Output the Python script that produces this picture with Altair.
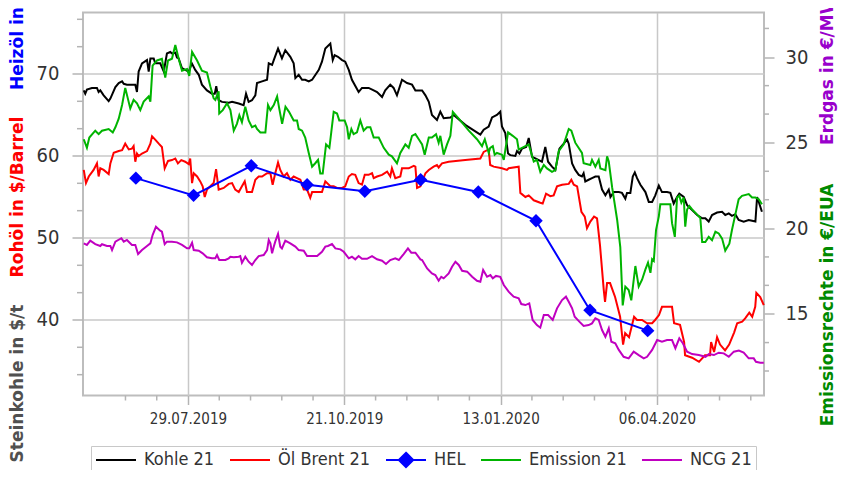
import altair as alt
import pandas as pd

# ---------------- data ----------------
BASE = pd.Timestamp("2019-06-02 14:00")   # day offsets below count from here

SERIES = ["Kohle 21", "Öl Brent 21", "HEL", "Emission 21", "NCG 21"]
COLORS = ["#000000", "#ff0000", "#0000ff", "#00b400", "#c000c0"]

kohle_day = [0.4, 1.2, 2.1, 4.8, 7.5, 8.4, 9.3, 11.1, 13.8, 14.7, 17.4, 19.2, 21.0, 21.9, 23.6, 28.1, 29.0, 29.9,
             31.7, 34.4, 35.3, 36.2, 38.0, 38.8, 41.5, 43.4, 45.1, 46.9, 47.8, 49.6, 50.5, 51.4, 53.2, 54.9, 56.8,
             58.5, 60.3, 62.2, 63.9, 66.6, 69.3, 70.8, 71.6, 72.9, 74.7, 78.3, 80.1, 83.7, 86.3, 87.6, 89.0,
             90.8, 92.6, 93.5, 96.2, 98.9, 99.8, 101.6, 102.5, 104.8, 106.9, 108.7, 111.4, 113.2, 114.1, 115.9,
             117.7, 119.4, 121.3, 123.1, 126.7, 128.4, 130.2, 132.9, 134.2, 135.2, 137.0, 139.2, 140.9, 142.8,
             144.5, 148.1, 149.9, 153.5, 156.2, 158.0, 160.7, 162.4, 165.1, 166.9, 168.7, 171.4, 174.1, 176.8,
             178.6, 181.3,
             182.2, 184.0, 185.8, 187.5, 190.2, 192.0, 193.8, 197.4, 199.2, 205.4, 213.5, 215.3, 218.0, 219.8,
             222.4, 224.2, 225.1, 226.9, 228.4, 229.6, 232.3, 233.2, 234.5, 235.9, 238.1, 239.5, 241.3, 243.1,
             244.9, 246.6, 248.4, 249.9, 252.0, 253.8, 256.0, 258.3, 260.1, 261.0, 262.8, 264.5, 266.4, 268.1,
             269.0, 269.9, 271.7,
             273.5, 275.3, 277.1, 278.9, 280.7, 282.5, 283.4, 285.2, 287.9, 289.6, 291.4, 292.3, 294.1, 295.4,
             296.5, 297.7, 299.5, 302.2, 304.0, 305.8, 307.5, 309.4, 311.1, 313.8, 315.6, 317.4, 319.2, 320.4,
             322.8, 324.6, 327.3, 330.0, 332.7, 334.4, 336.2, 338.0, 340.7, 343.4, 345.1, 347.0, 348.7, 350.5,
             352.3, 355.0, 357.7, 359.5, 361.3, 362.2, 363.1, 364.8]
kohle_val = [68.0, 67.6, 68.1, 68.3, 68.3, 67.8, 68.0, 67.4, 66.7, 67.0, 68.4, 68.9, 69.1, 68.8, 68.7, 68.7, 67.8, 70.3,
             71.3, 71.7, 70.3, 71.9, 71.9, 71.3, 71.3, 70.3, 72.5, 72.7, 72.5, 72.6, 72.0, 71.9, 70.7, 70.5, 70.3,
             71.3, 70.5, 69.9, 68.7, 68.0, 67.6, 67.6, 68.5, 66.8, 66.6, 66.5, 66.6, 66.4, 66.2, 67.6, 66.6,
             66.8, 67.4, 68.9, 69.1, 69.3, 71.3, 71.1, 71.7, 73.1, 71.9, 72.9, 72.1, 71.3, 69.5, 69.9,
             69.3, 69.3, 69.1, 69.3, 70.5, 71.5, 73.1, 73.7, 71.7, 72.3, 72.1, 71.7, 71.5, 70.5,
             69.3, 67.8, 68.3, 68.3, 68.0, 67.8, 67.2, 68.0, 68.7, 68.3, 67.4, 69.3, 68.9, 68.7,
             68.0, 68.0,
             68.0, 67.4, 66.6, 65.0, 64.4, 65.4, 64.6, 64.7, 65.0, 63.8, 62.6, 63.2, 63.6, 64.7,
             65.0, 65.4, 63.6, 62.8, 60.3, 60.1, 60.0, 60.6, 60.3, 60.9, 61.1, 62.2, 59.9, 59.7,
             59.5, 59.3, 61.1, 59.3, 58.7, 58.3, 60.9, 61.5, 62.0, 61.5, 59.1, 58.3, 57.7, 57.5,
             57.9, 56.9, 57.1,
             57.3, 57.5, 57.5, 55.9, 55.2, 55.9, 55.0, 55.6, 55.6, 55.5, 54.8, 55.5, 55.5, 57.5,
             58.0, 57.3, 56.5, 55.6, 54.4, 54.4, 55.2, 56.4, 55.6, 55.6, 55.5, 54.2, 55.0, 55.4,
             55.0, 54.0, 53.4, 52.8, 52.4, 52.4, 52.0, 52.8, 53.1, 53.2, 52.8, 53.0, 52.7, 52.9,
             52.2, 52.0, 52.2, 52.1, 52.0, 55.0, 54.4, 53.2]

brent_day = [0.4, 1.6, 3.1, 5.7, 7.5, 8.4, 9.3, 11.1, 13.8, 14.7, 16.5, 19.2, 21.0, 22.7, 24.6, 26.3, 27.2, 28.1,
             29.0, 29.9, 31.7, 34.4, 36.2, 37.1, 38.8, 40.7, 42.4, 43.9, 45.7, 47.8, 49.6, 51.0, 52.8, 54.9, 56.8,
             57.6, 58.6, 59.5, 61.3, 63.0, 64.3, 65.4, 66.6, 68.4, 70.2, 71.5, 72.9, 75.6, 78.3, 80.1, 81.8, 83.7,
             85.4, 86.9, 88.1,
             90.8, 92.6, 94.4, 96.2, 98.9, 100.7, 101.9, 103.3, 104.8, 106.0, 107.8, 109.6, 111.4, 113.2, 115.0,
             116.8, 118.6, 120.4, 122.1, 123.1, 124.8, 128.4, 130.2, 132.9, 134.7, 136.5, 139.2, 140.9, 142.8,
             144.5, 146.3, 148.1, 149.9, 151.4, 153.5, 155.3, 156.2, 158.0, 160.7, 163.4, 165.1, 166.0, 167.8,
             170.5, 171.4, 175.0, 177.7, 178.6, 179.5, 181.3,
             184.0, 185.8, 188.4, 190.2, 191.1, 192.9, 196.5, 205.4, 213.5, 215.3, 218.0, 218.8, 220.7, 225.1,
             227.8, 228.7, 234.1, 235.0, 237.7, 239.5, 242.2, 245.7, 247.0, 248.8, 251.1, 252.9, 254.7, 257.4,
             261.0, 262.4, 263.7, 265.5, 267.8, 269.6, 270.8, 272.6, 274.6, 276.2, 277.8, 279.8, 280.5, 281.6,
             283.2, 285.9, 288.6, 290.2, 291.3, 293.4, 296.1, 297.7, 300.4, 303.1, 305.8, 307.4, 309.5, 311.1,
             316.5, 317.6, 320.8, 323.0, 323.5, 327.3, 331.0, 334.2, 336.9, 337.5, 339.1, 340.7, 342.3, 345.0,
             347.2, 349.9, 351.5, 354.2, 355.8, 358.0, 359.6, 361.2, 361.8, 363.9, 365.8]
brent_val = [58.3, 56.7, 57.5, 58.3, 59.1, 57.5, 58.5, 58.3, 57.8, 59.1, 60.4, 60.6, 60.7, 61.5, 60.8, 60.9, 61.2, 59.3,
             60.3, 60.0, 60.3, 60.6, 61.5, 62.4, 62.0, 61.5, 61.1, 58.5, 59.4, 59.5, 59.7, 59.1, 59.5, 59.3, 59.0,
             59.7, 56.7, 57.9, 57.5, 56.9, 56.3, 55.0, 55.9, 56.3, 56.7, 58.4, 55.9, 56.1, 56.6, 56.7, 55.9, 55.6,
             56.3, 56.9, 55.6,
             55.6, 57.1, 57.5, 57.5, 57.9, 57.9, 56.5, 57.9, 59.2, 58.3, 57.5, 57.9, 57.1, 57.5, 57.3,
             57.1, 55.9, 55.9, 54.9, 55.6, 55.6, 55.6, 56.9, 56.3, 56.3, 56.1, 56.1, 56.3, 57.5,
             57.8, 57.7, 56.7, 56.5, 57.7, 57.7, 57.9, 57.3, 57.5, 57.7, 58.1, 57.5, 58.5, 57.3,
             57.5, 58.5, 58.5, 58.8, 58.7, 56.1, 56.3,
             57.9, 58.3, 58.7, 58.9, 58.6, 59.1, 59.3, 59.5, 59.7, 60.5, 60.8, 58.9, 58.7, 58.5,
             58.3, 58.5, 58.7, 55.5, 55.0, 55.2, 54.6, 54.3, 54.2, 55.4, 55.1, 55.2, 56.3, 56.5,
             56.6, 57.1, 56.5, 56.3, 53.2, 52.6, 51.2, 52.0, 52.6, 52.4, 49.1, 43.7, 42.2, 44.5,
             44.5, 42.8, 40.4, 37.0, 38.4, 37.9, 40.4, 40.0, 40.0, 39.6, 39.6, 40.0, 40.6, 41.6,
             41.6, 39.6, 39.4, 37.3, 35.7, 35.4, 34.9, 35.7, 35.7, 37.3, 36.1, 37.9, 37.0, 36.3,
             37.0, 38.5, 39.6, 39.8, 40.2, 40.9, 40.4, 41.6, 43.3, 42.8, 41.8]

hel_date = ["2019-07-01", "2019-08-01", "2019-09-01", "2019-10-01", "2019-11-01",
            "2019-12-01", "2020-01-01", "2020-02-01", "2020-03-01", "2020-04-01"]
hel_val = [57.3, 55.2, 58.8, 56.5, 55.7, 57.1, 55.6, 52.1, 41.2, 38.7]

emission_day = [0.4, 2.1, 3.4, 6.6, 8.4, 10.2, 13.8, 16.0, 17.4, 19.2, 21.0, 22.7, 25.4, 27.2, 29.0, 30.8, 32.6,
                35.3, 36.2, 37.4, 39.8, 42.4, 44.2, 45.7, 47.8, 49.6, 51.4, 53.2, 55.9, 57.1, 58.6, 61.3, 63.9,
                66.6, 68.4, 70.2, 71.1, 72.9, 73.2, 75.1, 77.4, 79.2, 81.0, 82.7, 84.0, 85.4, 87.2, 89.0,
                90.8, 92.6, 93.5, 95.3, 98.0, 99.4, 100.7, 102.5, 104.3, 105.6, 107.0, 108.8, 110.7, 113.2,
                115.0, 115.9, 117.7, 119.4, 121.3, 123.1, 124.8, 126.3, 127.5, 128.8, 130.6, 132.4, 134.7,
                136.5, 137.7, 140.6, 141.9, 142.8, 144.2, 145.4, 147.2, 149.0, 150.8, 152.6, 154.4, 156.2,
                158.9, 161.6, 164.3, 166.0, 168.7, 170.5, 173.2, 175.0, 176.8, 178.6, 180.4,
                182.2, 183.6, 185.8, 187.5, 189.7, 191.1, 192.0, 193.8, 195.6, 197.4, 198.7, 201.9, 207.3,
                211.7, 214.4, 215.9, 218.0, 218.8, 220.2, 221.2, 222.4, 225.1, 226.1, 228.4, 230.9, 233.2,
                234.1, 235.9, 239.5, 242.2, 243.9, 245.7, 247.6, 249.3, 252.0, 253.8, 255.6, 258.3, 261.0,
                262.4, 264.5, 268.1, 269.0, 272.6,
                273.5, 275.3, 277.1, 278.0, 280.7, 281.6, 282.5, 284.3, 287.0, 288.7, 290.0, 291.4, 293.2,
                294.6, 296.8, 298.6, 300.4, 302.2, 303.6, 304.9, 305.8, 306.7, 307.9, 309.4, 310.2, 312.1,
                315.6, 316.5, 318.0, 319.2, 320.4, 321.5, 322.8, 323.6, 324.6, 325.8, 327.3, 330.0, 331.7,
                332.7, 334.4, 336.2, 338.0, 339.8, 341.6, 343.4, 345.1, 347.3, 348.7, 350.5, 352.3, 354.1,
                357.7, 359.5, 361.3, 363.1, 364.8]
emission_val = [25.2, 24.7, 25.3, 25.7, 25.5, 25.7, 25.8, 25.6, 25.9, 26.4, 27.2, 28.2, 27.0, 27.5, 27.3, 26.9, 27.4,
                27.7, 27.4, 29.5, 29.8, 29.9, 28.8, 29.8, 29.9, 30.7, 29.9, 29.2, 29.3, 28.9, 30.3, 29.8, 29.2,
                29.1, 28.3, 27.6, 27.5, 28.0, 26.7, 26.9, 27.3, 26.9, 25.7, 26.1, 26.6, 26.2, 27.1, 26.3,
                25.9, 26.0, 25.8, 25.6, 25.6, 27.2, 26.9, 27.2, 27.7, 26.9, 26.1, 27.1, 26.8, 26.3,
                26.3, 25.8, 25.7, 25.3, 24.4, 23.6, 23.8, 24.0, 23.2, 23.2, 24.9, 24.7, 26.8,
                26.7, 26.3, 26.3, 25.9, 25.2, 25.8, 25.5, 25.6, 26.3, 25.7, 25.9, 25.9, 25.3,
                25.3, 24.7, 24.3, 24.2, 23.8, 24.4, 24.9, 24.7, 25.4, 25.5, 25.2,
                24.9, 24.3, 25.3, 25.3, 25.5, 25.0, 25.4, 24.3, 24.9, 25.4, 26.8, 26.4, 25.7,
                25.2, 24.8, 25.2, 24.4, 24.7, 24.8, 24.3, 24.4, 24.3, 24.0, 25.6, 25.4, 25.2,
                24.6, 24.7, 24.9, 23.9, 24.0, 23.3, 23.7, 23.5, 23.3, 23.4, 24.5, 24.9, 25.8,
                25.7, 25.0, 24.4, 23.8, 23.7,
                24.0, 23.6, 24.0, 23.5, 23.4, 24.2, 23.9, 22.4, 20.5, 18.9, 15.5, 16.6, 16.4,
                15.8, 17.8, 16.6, 17.0, 17.6, 18.0, 17.4, 18.2, 18.1, 19.9, 20.7, 21.4, 21.4,
                21.4, 20.3, 19.5, 21.8, 21.9, 21.5, 21.8, 20.1, 21.1, 21.3, 21.1, 20.8, 20.6,
                19.2, 19.2, 19.5, 19.3, 19.8, 19.7, 19.4, 18.7, 19.1, 19.9, 20.8, 21.7, 21.9,
                22.0, 21.8, 21.8, 21.7, 21.4]

ncg_day = [0.4, 2.1, 3.9, 6.6, 9.3, 10.2, 12.9, 14.7, 15.6, 17.4, 20.6, 21.9, 23.6, 26.3, 28.1, 29.6, 31.7, 34.4,
           36.2, 37.4, 39.2, 41.5, 42.4, 43.9, 45.1, 47.8, 50.5, 53.2, 55.9, 57.1, 58.6, 59.5, 62.2, 64.3, 66.6,
           69.3, 71.1, 72.0, 73.2, 76.5, 78.3, 79.2, 81.0, 83.7, 84.5, 85.4, 87.2, 89.0,
           90.8, 92.6, 94.4, 97.1, 98.9, 99.8, 100.7, 101.6, 102.5, 103.3, 104.8, 106.0, 106.9, 108.7, 111.4,
           114.1, 115.9, 118.6, 120.4, 123.1, 125.8, 128.4, 130.2, 131.6, 133.8, 135.6, 138.3, 140.1, 142.8,
           144.5, 146.3, 148.1, 149.9, 152.6, 155.3, 158.0, 160.7, 162.8, 165.1, 167.8, 169.7, 172.3, 174.6,
           176.4, 178.6, 181.3,
           182.2, 184.9, 187.5, 189.3, 191.1, 192.5, 193.8, 196.5, 198.3, 200.1, 201.9, 203.7, 206.4, 209.1,
           211.7, 213.5, 215.0, 217.1, 218.9, 220.2, 221.9, 224.2, 226.1, 228.7, 231.4, 234.1, 235.5, 237.7,
           239.8, 241.6, 243.9, 245.7, 247.6, 249.9, 252.4, 254.7, 257.4, 259.5, 261.0, 262.8, 264.2, 266.7,
           269.0, 271.7,
           273.5, 275.3, 277.1, 278.9, 280.7, 282.5, 283.9, 286.0, 287.9, 290.5, 293.2, 295.9, 298.6, 301.3,
           303.1, 305.8, 308.5, 311.1, 313.8, 316.5, 318.3, 320.4, 322.3, 324.6, 327.3, 330.9, 334.5, 336.3,
           339.0, 341.6, 344.3, 347.0, 349.7, 352.4, 355.0, 357.7, 360.4, 361.6, 363.9, 365.8]
ncg_val = [19.12, 19.03, 19.28, 19.08, 18.97, 19.07, 18.97, 18.97, 18.73, 19.22, 19.42, 19.22, 19.32, 19.03, 19.03,
           18.50, 18.73, 18.97, 19.12, 19.61, 20.09, 19.86, 19.80, 19.08, 19.22, 19.22, 19.18, 19.03, 18.83, 18.83,
           19.16, 18.73, 18.69, 18.54, 18.31, 18.25, 18.25, 18.44, 18.15, 18.15, 18.25, 18.34, 18.31, 18.34, 18.38,
           17.99, 18.34, 18.05,
           17.86, 18.15, 18.38, 18.44, 18.73, 19.32, 19.12, 18.54, 18.93, 19.22, 19.67, 18.93, 18.83, 19.28, 19.12,
           18.93, 18.73, 18.69, 18.38, 18.38, 18.38, 18.63, 18.93, 18.97, 19.08, 18.83, 18.77, 18.63, 18.25,
           18.34, 18.19, 18.38, 18.22, 18.22, 18.38, 18.19, 18.11, 17.92, 18.15, 18.25, 18.15, 18.50, 18.83,
           18.58, 18.58, 18.19,
           18.15, 17.66, 17.37, 17.27, 16.94, 17.17, 17.08, 17.37, 17.76, 18.05, 17.86, 17.52, 17.47, 17.17,
           16.94, 16.88, 17.57, 17.17, 17.27, 17.08, 17.22, 17.17, 16.69, 16.30, 16.01, 15.91, 15.58, 15.52,
           15.62, 14.65, 14.35, 14.20, 14.94, 14.94, 14.65, 15.33, 15.81, 16.01, 15.71, 15.33, 14.84, 14.55,
           14.30, 14.35,
           14.45, 14.75, 14.65, 14.06, 13.67, 14.16, 13.38, 13.29, 12.90, 12.50, 12.41, 12.80, 12.60, 12.41,
           12.50, 12.90, 13.48, 13.38, 13.48, 13.48, 13.00, 13.58, 13.29, 12.80, 12.66, 12.60, 12.50, 12.66,
           12.60, 12.74, 12.70, 12.50, 12.80, 12.86, 12.74, 12.41, 12.41, 12.21, 12.15, 12.15]

# axis tick values / labels
x_major = [(2019, 7, 29), (2019, 10, 21), (2020, 1, 13), (2020, 4, 6)]
left_major = [40, 50, 60, 70]
left_minor = [33.33, 36.67, 43.33, 46.67, 53.33, 56.67, 63.33, 66.67, 73.33, 76.67]
right_major = [15, 20, 25, 30]
right_minor = [11.67, 13.33, 16.67, 18.33, 21.67, 23.33, 26.67, 28.33, 31.67]

# ---------------- frames ----------------
def series_frame(days, vals, name):
    return pd.DataFrame({"date": BASE + pd.to_timedelta(days, unit="D"), "value": vals, "series": name})

left_df = pd.concat([
    series_frame(kohle_day, kohle_val, "Kohle 21"),
    series_frame(brent_day, brent_val, "Öl Brent 21"),
    pd.DataFrame({"date": pd.to_datetime(hel_date), "value": hel_val, "series": "HEL"}),
])
hel_df = left_df[left_df.series == "HEL"]
right_df = pd.concat([
    series_frame(emission_day, emission_val, "Emission 21"),
    series_frame(ncg_day, ncg_val, "NCG 21"),
])
minor_x_df = pd.DataFrame({"date": pd.date_range("2019-06-25 09:36", "2020-06-01", freq="403h12min")})
minor_x_df = minor_x_df[~minor_x_df.date.dt.strftime("%Y-%m-%d").isin(
    ["2019-07-29", "2019-10-21", "2020-01-13", "2020-04-06"])]

# ---------------- styling ----------------
W, H = 681, 383
FONT = "DejaVu Sans Condensed"
GRID = "#c8c8c8"
TICK = "#b4b4b4"

x_scale = alt.Scale(domain=[alt.DateTime(year=2019, month=6, date=2, hours=14),
                            alt.DateTime(year=2020, month=6, date=2, hours=12)])
left_scale = alt.Scale(domain=[30.79, 77.5], nice=False, zero=False)
right_scale = alt.Scale(domain=[10.24, 32.6], nice=False, zero=False)

x_axis = alt.Axis(values=[alt.DateTime(year=y, month=m, date=d) for y, m, d in x_major],
                  format="%d.%m.%Y", title=None, grid=True, tickSize=9, labelPadding=7,
                  labelFontSize=15, labelFlush=False)

hel_path = "M-1,0L1,0M0,-0.36L0.36,0L0,0.36L-0.36,0Z"
legend = alt.Legend(title=None, orient="none", legendX=8, legendY=433.5, direction="horizontal",
                    symbolSize=1600, symbolStrokeWidth=2, symbolFillColor="#0000ff", clipHeight=20,
                    labelFont=FONT, labelFontSize=18, labelColor="#333333", labelOffset=7,
                    columnPadding=14, padding=4, strokeColor="#c8c8c8")
color = alt.Color("series:N", scale=alt.Scale(domain=SERIES, range=COLORS), legend=legend)
shape = alt.Shape("series:N", scale=alt.Scale(domain=SERIES,
                                                range=["stroke", "stroke", hel_path, "stroke", "stroke"]),
                  legend=legend)

left_lines = alt.Chart(left_df).mark_line(strokeWidth=2).encode(
    x=alt.X("date:T", scale=x_scale, axis=x_axis),
    y=alt.Y("value:Q", scale=left_scale,
            axis=alt.Axis(values=left_major, orient="left", title=None, grid=True, tickSize=11,
                          labelPadding=13, labelFontSize=20)),
    color=color,
    detail="series:N",
)
# visible HEL diamonds
hel_points = alt.Chart(hel_df).mark_point(shape="diamond", filled=True, size=180, opacity=1).encode(
    x=alt.X("date:T", scale=x_scale, axis=x_axis),
    y=alt.Y("value:Q", scale=left_scale),
    color=color,
)
# zero-size symbols that only carry the legend symbol shapes (line + diamond for HEL)
hel_legend_carrier = alt.Chart(hel_df).mark_point(filled=True, size=0).encode(
    x=alt.X("date:T", scale=x_scale, axis=x_axis),
    y=alt.Y("value:Q", scale=left_scale),
    color=color,
    shape=shape,
)
left_minor_ticks = alt.Chart(pd.DataFrame({"value": left_minor})).mark_rule(
    color=TICK, strokeWidth=1.5).encode(
    y=alt.Y("value:Q", scale=left_scale), x=alt.value(-6), x2=alt.value(0))

right_lines = alt.Chart(right_df).mark_line(strokeWidth=2).encode(
    x=alt.X("date:T", scale=x_scale, axis=x_axis),
    y=alt.Y("value:Q", scale=right_scale,
            axis=alt.Axis(values=right_major, orient="right", title=None, grid=False, tickSize=10,
                          labelPadding=11, labelFontSize=20)),
    color=color,
    detail="series:N",
)
right_minor_ticks = alt.Chart(pd.DataFrame({"value": right_minor})).mark_rule(
    color=TICK, strokeWidth=1.5).encode(
    y=alt.Y("value:Q", scale=right_scale), x=alt.value(W), x2=alt.value(W + 5))

x_minor_ticks = alt.Chart(minor_x_df).mark_rule(color=TICK, strokeWidth=1.5).encode(
    x=alt.X("date:T", scale=x_scale), y=alt.value(H), y2=alt.value(H + 5))

def title_text(txt, col, x, y, align):
    return alt.Chart(pd.DataFrame({"t": [txt]})).mark_text(
        angle=270, align=align, baseline="middle", font="DejaVu Sans", fontWeight="bold",
        fontSize=17, color=col).encode(text="t:N", x=alt.value(x), y=alt.value(y))

titles = [
    title_text("Steinkohle in $/t", "#505050", -65, 371, "center"),
    title_text("Rohöl in $/Barrel", "#ff0000", -65, 184.5, "center"),
    title_text("Heizöl in €/100l", "#0000ff", -65, 77.5, "left"),
    title_text("Emissionsrechte in €/EUA", "#008a00", 745, 292.5, "center"),
    title_text("Erdgas in €/MWh", "#9900cc", 745, 132.5, "left"),
]

left_layer = alt.layer(left_lines, hel_points, hel_legend_carrier, left_minor_ticks)
right_layer = alt.layer(right_lines, right_minor_ticks)

chart = alt.layer(left_layer, right_layer, x_minor_ticks, *titles).resolve_scale(
    y="independent"
).properties(
    width=W, height=H,
    autosize=alt.AutoSizeParams(type="none"),
    padding={"left": 75, "top": 4.5, "right": 74, "bottom": 74.5},
).configure_view(
    stroke="#bdbdbd", strokeWidth=2
).configure_axis(
    domain=False, labelFont=FONT, labelColor="#333333", tickColor=TICK, tickWidth=1.5,
    gridColor=GRID, gridWidth=1.5
)

chart.save("out.html", embed_options={"renderer": "svg", "actions": False})
